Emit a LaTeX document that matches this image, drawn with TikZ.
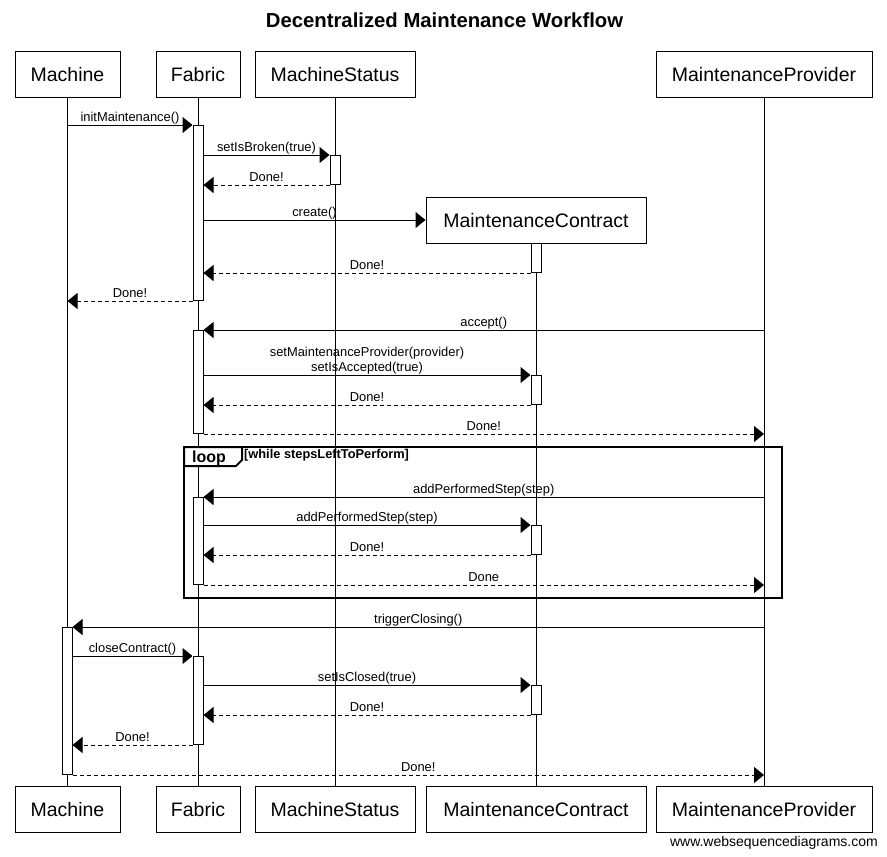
\documentclass[tikz,border=0pt]{standalone}
\usepackage{fontspec}
\setmainfont{Liberation Sans}
\usetikzlibrary{arrows.meta}
\begin{document}
\begin{tikzpicture}[x=1pt,y=-1pt,
  part/.style={draw, fill=white, line width=1pt, font=\fontsize{19.5}{22}\selectfont,
    minimum height=46pt, inner xsep=0pt, inner ysep=0pt, text height=14.3pt, text depth=0pt},
  life/.style={line width=1pt},
  act/.style={draw, fill=white, line width=1pt, minimum width=10pt, inner sep=0pt, anchor=north},
  msg/.style={line width=1pt, -{Triangle[length=10pt,width=16pt]}},
  ret/.style={msg, dash pattern=on 4pt off 3pt},
  lbl/.style={font=\fontsize{12.9}{14}\selectfont, anchor=base, yshift=4pt, inner sep=0pt},
  lblhi/.style={lbl, yshift=15pt}
]
\useasboundingbox (0,0) rectangle (887,857);
\fill[white] (0,0) rectangle (887,857);

\node[font=\bfseries\fontsize{20.3}{23}\selectfont, anchor=base, inner sep=0pt] (title) at (444.5,27.5) {Decentralized Maintenance Workflow};

% participants top
\node[part, minimum width=105pt] (mT) at (67.5,74) {Machine};
\node[part, minimum width=84pt] (fT) at (198,74) {Fabric};
\node[part, minimum width=160pt] (sT) at (335,74) {MachineStatus};
\node[part, minimum width=220pt] (cT) at (536,220) {MaintenanceContract};
\node[part, minimum width=216pt] (pT) at (764,74) {MaintenanceProvider};
% participants bottom
\node[part, minimum width=105pt] (mB) at (67.5,809.5) {Machine};
\node[part, minimum width=84pt] (fB) at (198,809.5) {Fabric};
\node[part, minimum width=160pt] (sB) at (335,809.5) {MachineStatus};
\node[part, minimum width=220pt] (cB) at (536,809.5) {MaintenanceContract};
\node[part, minimum width=216pt] (pB) at (764,809.5) {MaintenanceProvider};

% lifelines
\draw[life] (mT.south) -- (mB.north);
\draw[life] (fT.south) -- (fB.north);
\draw[life] (sT.south) -- (sB.north);
\draw[life] (cT.south) -- (cB.north);
\draw[life] (pT.south) -- (pB.north);

% loop frame
\draw[line width=2pt] (184,447) rectangle (782,598);
\draw[line width=2pt, fill=white] (184,447) -- (242,447) -- (242,460) -- (236,466) -- (184,466) -- cycle;
\node[font=\bfseries\fontsize{16}{18}\selectfont, anchor=base, inner sep=0pt] (looplbl) at (209,462) {loop};
\node[font=\bfseries\fontsize{12.8}{14}\selectfont, anchor=base west, inner sep=0pt] (loopcond) at (244,458) {[while stepsLeftToPerform]};

% activations
\node[act, minimum height=175pt] (fa1) at (198,125) {};
\node[act, minimum height=29pt] (ms1) at (335,155) {};
\node[act, minimum height=29pt] (mc1) at (536,243) {};
\node[act, minimum height=103pt] (fa2) at (198,330) {};
\node[act, minimum height=29pt] (mc2) at (536,375) {};
\node[act, minimum height=87pt] (fa3) at (198,497) {};
\node[act, minimum height=29pt] (mc3) at (536,525) {};
\node[act, minimum height=147pt] (ma1) at (67,627) {};
\node[act, minimum height=88pt] (fa4) at (198,656) {};
\node[act, minimum height=29pt] (mc4) at (536,685) {};

% messages
\draw[msg] (mT.south |- fa1.north) -- node[lbl] {initMaintenance()} (fa1.north west);
\draw[msg] (fa1.east |- ms1.north) -- node[lbl] {setIsBroken(true)} (ms1.north west);
\draw[ret] (ms1.south west) -- node[lbl] {Done!} (fa1.east |- ms1.south);
\draw[msg] (fa1.east |- cT.west) -- node[lbl] {create()} (cT.west);
\draw[ret] (mc1.south west) -- node[lbl] {Done!} (fa1.east |- mc1.south);
\draw[ret] (fa1.south west) -- node[lbl] {Done!} (mT.south |- fa1.south);
\draw[msg] (pT.south |- fa2.north) -- node[lbl] {accept()} (fa2.north east);
\draw[msg] (fa2.east |- mc2.north) -- node[lblhi] {setMaintenanceProvider(provider)} node[lbl] {setIsAccepted(true)} (mc2.north west);
\draw[ret] (mc2.south west) -- node[lbl] {Done!} (fa2.east |- mc2.south);
\draw[ret] (fa2.south east) -- node[lbl] {Done!} (pT.south |- fa2.south);
\draw[msg] (pT.south |- fa3.north) -- node[lbl] {addPerformedStep(step)} (fa3.north east);
\draw[msg] (fa3.east |- mc3.north) -- node[lbl] {addPerformedStep(step)} (mc3.north west);
\draw[ret] (mc3.south west) -- node[lbl] {Done!} (fa3.east |- mc3.south);
\draw[ret] (fa3.south east) -- node[lbl] {Done} (pT.south |- fa3.south);
\draw[msg] (pT.south |- ma1.north) -- node[lbl] {triggerClosing()} (ma1.north east);
\draw[msg] (ma1.east |- fa4.north) -- node[lbl] {closeContract()} (fa4.north west);
\draw[msg] (fa4.east |- mc4.north) -- node[lbl] {setIsClosed(true)} (mc4.north west);
\draw[ret] (mc4.south west) -- node[lbl] {Done!} (fa4.east |- mc4.south);
\draw[ret] (fa4.south west) -- node[lbl] {Done!} (ma1.east |- fa4.south);
\draw[ret] (ma1.south east) -- node[lbl] {Done!} (pT.south |- ma1.south);

\node[anchor=base east, inner sep=0pt, font=\fontsize{14}{16}\selectfont] (wm) at (878,846) {www.websequencediagrams.com};
\end{tikzpicture}
\end{document}
